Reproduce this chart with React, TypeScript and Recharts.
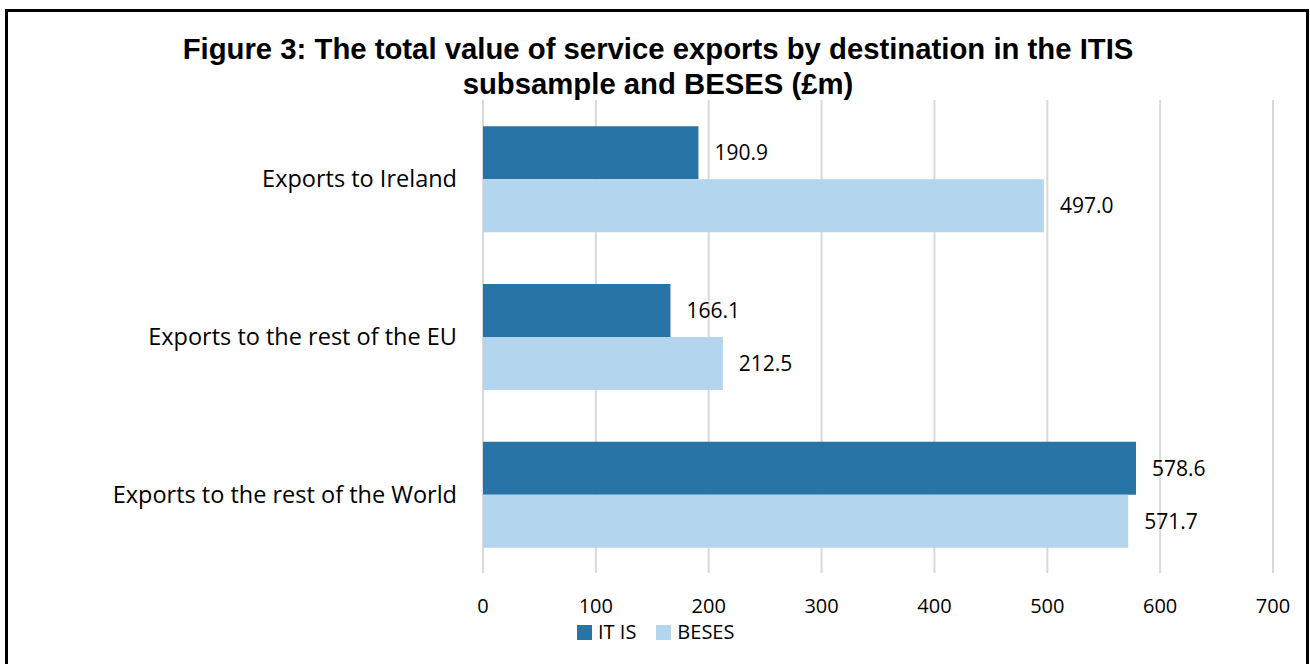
import React from "react";
import { BarChart, Bar, XAxis, YAxis, CartesianGrid, LabelList } from "recharts";

const categories = [
  "Exports to Ireland",
  "Exports to the rest of the EU",
  "Exports to the rest of the World",
];
const itisValues = [190.9, 166.1, 578.6];
const besesValues = [497.0, 212.5, 571.7];
const xTicks = [0, 100, 200, 300, 400, 500, 600, 700];
const seriesNames = ["IT IS", "BESES"];
const seriesColors = ["#2874a6", "#b4d5ee"];
const titleLines = [
  "Figure 3: The total value of service exports by destination in the ITIS",
  "subsample and BESES (£m)",
];

const data = categories.map((name, i) => ({
  name,
  itis: itisValues[i],
  beses: besesValues[i],
}));

const bodyFont = "'Open Sans', 'Noto Sans', sans-serif";

const App: React.FC = () => {
  return (
    <div
      style={{
        position: "absolute",
        left: 0,
        top: 0,
        width: 1310,
        height: 664,
        background: "#fff",
        overflow: "hidden",
      }}
    >
      <div
        style={{
          position: "absolute",
          left: 5,
          top: 9,
          width: 1298,
          height: 700,
          border: "3px solid #000",
          borderBottom: "none",
        }}
      />
      <div
        style={{
          position: "absolute",
          left: 0,
          top: 31,
          width: 1316,
          textAlign: "center",
          fontFamily: "'Liberation Sans', Arial, sans-serif",
          fontWeight: "bold",
          fontSize: 29.3,
          lineHeight: "35px",
          color: "#000",
        }}
      >
        {titleLines.map((t) => (
          <div key={t}>{t}</div>
        ))}
      </div>
      <div style={{ position: "absolute", left: 0, top: 0 }}>
        <BarChart
          width={1310}
          height={664}
          data={data}
          layout="vertical"
          margin={{ top: 100, right: 37, bottom: 51, left: 0 }}
          barCategoryGap="16.7%"
          barGap={0}
        >
          <CartesianGrid horizontal={false} stroke="#d9d9d9" strokeWidth={2} />
          <XAxis
            type="number"
            domain={[0, 700]}
            ticks={xTicks}
            axisLine={false}
            tickLine={false}
            height={40}
            tickMargin={20}
            tick={{ fill: "#000", fontSize: 20, fontFamily: bodyFont }}
          />
          <YAxis
            type="category"
            dataKey="name"
            width={483}
            axisLine={false}
            tickLine={false}
            tickMargin={20}
            interval={0}
            tick={{ fill: "#000", fontSize: 23.5, fontFamily: bodyFont }}
          />
          <Bar dataKey="itis" name={seriesNames[0]} fill={seriesColors[0]} isAnimationActive={false}>
            <LabelList
              dataKey="itis"
              position="right"
              offset={16}
              formatter={(v: any) => Number(v).toFixed(1)}
              style={{ fill: "#000", fontSize: 21, fontFamily: bodyFont }}
            />
          </Bar>
          <Bar dataKey="beses" name={seriesNames[1]} fill={seriesColors[1]} isAnimationActive={false}>
            <LabelList
              dataKey="beses"
              position="right"
              offset={16}
              formatter={(v: any) => Number(v).toFixed(1)}
              style={{ fill: "#000", fontSize: 21, fontFamily: bodyFont }}
            />
          </Bar>
        </BarChart>
      </div>
      <div
        style={{
          position: "absolute",
          left: 577,
          top: 620,
          display: "flex",
          alignItems: "center",
          fontFamily: bodyFont,
          fontSize: 20,
          lineHeight: "24px",
          color: "#000",
        }}
      >
        {seriesNames.map((n, i) => (
          <div key={n} style={{ display: "flex", alignItems: "center", marginRight: 20 }}>
            <span
              style={{
                display: "inline-block",
                width: 15,
                height: 15,
                background: seriesColors[i],
                marginRight: 6,
              }}
            />
            <span>{n}</span>
          </div>
        ))}
      </div>
    </div>
  );
};

export default App;
